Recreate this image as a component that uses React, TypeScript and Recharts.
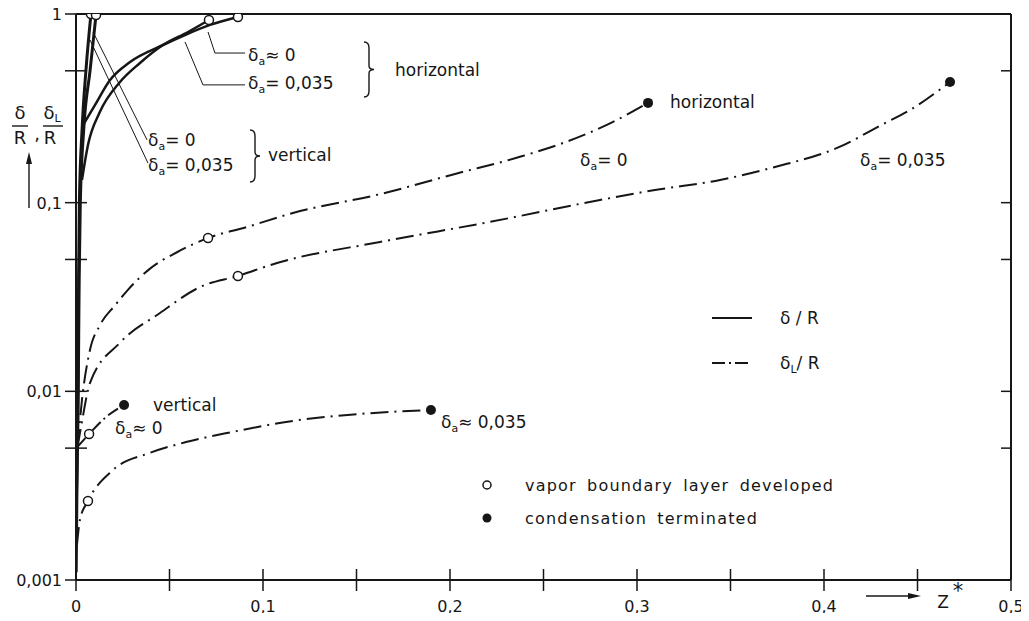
import { ComposedChart, Line, Scatter, XAxis, YAxis, ReferenceLine } from "recharts";

const INK = "#161616";
const FONT = "'DejaVu Sans', 'Liberation Sans', sans-serif";

// axes
const zTicks = [0, 0.05, 0.1, 0.15, 0.2, 0.25, 0.3, 0.35, 0.4, 0.45, 0.5];
const zTickLabels = ["0", "", "0,1", "", "0,2", "", "0,3", "", "0,4", "", "0,5"];
const rTicks = [0.001, 0.005, 0.01, 0.05, 0.1, 0.5, 1];
const rTickLabels = ["0,001", "", "0,01", "", "0,1", "", "1"];

// δ/R, vertical plate
const deltaVert0 = [
  { z: 0.0001, r: 0.0011 },
  { z: 0.0005, r: 0.003 },
  { z: 0.001, r: 0.01 },
  { z: 0.0014, r: 0.04 },
  { z: 0.0018, r: 0.1 },
  { z: 0.0033, r: 0.25 },
  { z: 0.0053, r: 0.5 },
  { z: 0.008, r: 1.0 },
];
const deltaVert035 = [
  { z: 0.0003, r: 0.003 },
  { z: 0.0012, r: 0.01 },
  { z: 0.0017, r: 0.04 },
  { z: 0.0023, r: 0.1 },
  { z: 0.0042, r: 0.25 },
  { z: 0.0075, r: 0.5 },
  { z: 0.0107, r: 0.988 },
];

// δ/R, horizontal tube
const deltaHorizA = [
  { z: 0.0032, r: 0.252 },
  { z: 0.0102, r: 0.33 },
  { z: 0.0182, r: 0.447 },
  { z: 0.0289, r: 0.557 },
  { z: 0.0465, r: 0.685 },
  { z: 0.0583, r: 0.774 },
  { z: 0.0717, r: 0.875 },
  { z: 0.0866, r: 0.964 },
];
const deltaHorizB = [
  { z: 0.0032, r: 0.132 },
  { z: 0.0064, r: 0.202 },
  { z: 0.0128, r: 0.303 },
  { z: 0.0235, r: 0.436 },
  { z: 0.0342, r: 0.55 },
  { z: 0.0465, r: 0.685 },
  { z: 0.0599, r: 0.803 },
  { z: 0.0711, r: 0.93 },
];

// δL/R, horizontal tube
const filmHoriz0 = [
  { z: 0.0008, r: 0.00507 },
  { z: 0.0016, r: 0.0062 },
  { z: 0.0032, r: 0.009 },
  { z: 0.0075, r: 0.0166 },
  { z: 0.0128, r: 0.0224 },
  { z: 0.0209, r: 0.0286 },
  { z: 0.0273, r: 0.0341 },
  { z: 0.0396, r: 0.0447 },
  { z: 0.054, r: 0.0546 },
  { z: 0.0706, r: 0.065 },
  { z: 0.0914, r: 0.0743 },
  { z: 0.116, r: 0.0882 },
  { z: 0.1626, r: 0.111 },
  { z: 0.2027, r: 0.142 },
  { z: 0.2374, r: 0.175 },
  { z: 0.2604, r: 0.207 },
  { z: 0.2872, r: 0.268 },
  { z: 0.3059, r: 0.338 },
];
const filmHoriz035 = [
  { z: 0.0008, r: 0.00507 },
  { z: 0.0027, r: 0.00648 },
  { z: 0.0075, r: 0.0111 },
  { z: 0.0235, r: 0.0181 },
  { z: 0.0449, r: 0.026 },
  { z: 0.0663, r: 0.0357 },
  { z: 0.0866, r: 0.0409 },
  { z: 0.1075, r: 0.0479 },
  { z: 0.1626, r: 0.0619 },
  { z: 0.2214, r: 0.0791 },
  { z: 0.2802, r: 0.1033 },
  { z: 0.3096, r: 0.1167 },
  { z: 0.3444, r: 0.1318 },
  { z: 0.3738, r: 0.1546 },
  { z: 0.407, r: 0.195 },
  { z: 0.4316, r: 0.261 },
  { z: 0.446, r: 0.31 },
  { z: 0.4674, r: 0.436 },
];

// δL/R, vertical plate
const filmVert0 = [
  { z: 0.0008, r: 0.00507 },
  { z: 0.007, r: 0.00594 },
  { z: 0.0155, r: 0.00723 },
  { z: 0.0257, r: 0.00847 },
];
const filmVert035 = [
  { z: 0.0005, r: 0.00153 },
  { z: 0.0021, r: 0.00208 },
  { z: 0.0064, r: 0.00262 },
  { z: 0.0198, r: 0.00383 },
  { z: 0.0396, r: 0.00472 },
  { z: 0.0594, r: 0.0054 },
  { z: 0.084, r: 0.0061 },
  { z: 0.116, r: 0.00697 },
  { z: 0.1519, r: 0.00759 },
  { z: 0.1898, r: 0.00797 },
];

// markers
const layerDeveloped = [
  { z: 0.008, r: 1.0 },
  { z: 0.0107, r: 0.988 },
  { z: 0.0711, r: 0.93 },
  { z: 0.0866, r: 0.964 },
  { z: 0.0706, r: 0.065 },
  { z: 0.0866, r: 0.0409 },
  { z: 0.007, r: 0.00594 },
  { z: 0.0064, r: 0.00262 },
];
const condensationEnd = [
  { z: 0.3059, r: 0.338 },
  { z: 0.4674, r: 0.436 },
  { z: 0.0257, r: 0.00847 },
  { z: 0.1898, r: 0.00797 },
];

// leader lines from curves to their labels
const leaders = [
  [{ z: 0.0091, r: 0.803 }, { z: 0.038, r: 0.215 }],
  [{ z: 0.0075, r: 0.728 }, { z: 0.0385, r: 0.162 }],
  [{ z: 0.0706, r: 0.803 }, { z: 0.0743, r: 0.621 }],
  [{ z: 0.0743, r: 0.621 }, { z: 0.0904, r: 0.621 }],
  [{ z: 0.0583, r: 0.711 }, { z: 0.0679, r: 0.421 }],
  [{ z: 0.0679, r: 0.421 }, { z: 0.0904, r: 0.421 }],
];

function BottomTick(props: any) {
  const { x, y, payload } = props;
  const label = zTickLabels[zTicks.indexOf(payload.value)];
  return (
    <g>
      <line x1={x} x2={x} y1={y - 11} y2={y + 11} stroke={INK} strokeWidth={1.5} />
      {label && (
        <text x={x} y={y + 32} textAnchor="middle" fontFamily={FONT} fontSize={16} fill={INK}>
          {label}
        </text>
      )}
    </g>
  );
}

function LeftTick(props: any) {
  const { x, y, payload } = props;
  const label = rTickLabels[rTicks.indexOf(payload.value)];
  return (
    <g>
      <line x1={x - 11} x2={x + 11} y1={y} y2={y} stroke={INK} strokeWidth={1.5} />
      {label && (
        <text x={x - 14} y={y + 6} textAnchor="end" fontFamily={FONT} fontSize={16} fill={INK}>
          {label}
        </text>
      )}
    </g>
  );
}

function TopTick(props: any) {
  const { x, y } = props;
  return <line x1={x} x2={x} y1={y} y2={y + 10} stroke={INK} strokeWidth={1.5} />;
}

function RightTick(props: any) {
  const { x, y } = props;
  return <line x1={x - 10} x2={x} y1={y} y2={y} stroke={INK} strokeWidth={1.5} />;
}

function DeltaA({ x, y, rest }: { x: number; y: number; rest: string }) {
  return (
    <text x={x} y={y} fontFamily={FONT} fontSize={17} fill={INK}>
      δ
      <tspan fontSize={11} dy={4}>
        a
      </tspan>
      <tspan dy={-4}>{rest}</tspan>
    </text>
  );
}

function Brace({ x, y1, y2 }: { x: number; y1: number; y2: number }) {
  const m = (y1 + y2) / 2;
  const d = `M${x},${y1} Q${x + 5},${y1} ${x + 5},${y1 + 6} L${x + 5},${m - 4} Q${x + 5},${m} ${x + 10},${m} Q${x + 5},${m} ${x + 5},${m + 4} L${x + 5},${y2 - 6} Q${x + 5},${y2} ${x},${y2}`;
  return <path d={d} fill="none" stroke={INK} strokeWidth={1.4} />;
}

const solid = { stroke: INK, strokeWidth: 2.5, dot: false, type: "monotone" as const, isAnimationActive: false };
const dashDot = { ...solid, strokeWidth: 2, strokeDasharray: "18 6 2 6" };

export default function App() {
  const txt = { fontFamily: FONT, fontSize: 17, fill: INK };
  return (
    <div style={{ position: "relative", margin: -8, width: 1029, height: 621, background: "#fff" }}>
      <ComposedChart width={1029} height={621} margin={{ top: 13, right: 17, bottom: 3, left: 16 }}>
        <XAxis
          dataKey="z"
          type="number"
          domain={[0, 0.5]}
          ticks={zTicks}
          interval={0}
          height={38}
          tickSize={0}
          tickMargin={0}
          tickLine={false}
          tick={<BottomTick />}
          axisLine={{ stroke: INK, strokeWidth: 2 }}
          allowDataOverflow
        />
        <XAxis
          xAxisId="top"
          orientation="top"
          type="number"
          domain={[0, 0.5]}
          ticks={zTicks}
          interval={0}
          height={1}
          tickSize={0}
          tickMargin={0}
          tickLine={false}
          tick={<TopTick />}
          axisLine={{ stroke: INK, strokeWidth: 2 }}
          allowDataOverflow
        />
        <YAxis
          dataKey="r"
          type="number"
          scale="log"
          domain={[0.001, 1]}
          ticks={rTicks}
          interval={0}
          width={60}
          tickSize={0}
          tickMargin={0}
          tickLine={false}
          tick={<LeftTick />}
          axisLine={{ stroke: INK, strokeWidth: 2 }}
          allowDataOverflow
        />
        <YAxis
          yAxisId="right"
          orientation="right"
          type="number"
          scale="log"
          domain={[0.001, 1]}
          ticks={rTicks}
          interval={0}
          width={1}
          tickSize={0}
          tickMargin={0}
          tickLine={false}
          tick={<RightTick />}
          axisLine={{ stroke: INK, strokeWidth: 2 }}
          allowDataOverflow
        />

        {leaders.map((seg, i) => (
          <ReferenceLine
            key={i}
            segment={[
              { x: seg[0].z, y: seg[0].r },
              { x: seg[1].z, y: seg[1].r },
            ]}
            stroke={INK}
            strokeWidth={1}
          />
        ))}

        <Line data={deltaVert0} dataKey="r" {...solid} strokeWidth={3} />
        <Line data={deltaVert035} dataKey="r" {...solid} strokeWidth={3} />
        <Line data={deltaHorizA} dataKey="r" {...solid} />
        <Line data={deltaHorizB} dataKey="r" {...solid} />
        <Line data={filmHoriz0} dataKey="r" {...dashDot} />
        <Line data={filmHoriz035} dataKey="r" {...dashDot} />
        <Line data={filmVert0} dataKey="r" {...dashDot} strokeDasharray="12 4 2 4" />
        <Line data={filmVert035} dataKey="r" {...dashDot} />

        <Scatter
          data={layerDeveloped}
          isAnimationActive={false}
          shape={(p: any) => <circle cx={p.cx} cy={p.cy} r={4.5} fill="#fff" stroke={INK} strokeWidth={1.5} />}
        />
        <Scatter
          data={condensationEnd}
          isAnimationActive={false}
          shape={(p: any) => <circle cx={p.cx} cy={p.cy} r={5} fill={INK} />}
        />
      </ComposedChart>

      <svg width={1029} height={621} style={{ position: "absolute", left: 0, top: 0, pointerEvents: "none" }}>
        {/* y axis title */}
        <g fontFamily={FONT} fontSize={18} fill={INK} textAnchor="middle">
          <text x={20} y={119}>δ</text>
          <line x1={12} x2={28} y1={126} y2={126} stroke={INK} strokeWidth={1.4} />
          <text x={20} y={144}>R</text>
          <text x={37} y={140}>,</text>
          <text x={52} y={119}>
            δ<tspan fontSize={11} dy={3}>L</tspan>
          </text>
          <line x1={43} x2={63} y1={126} y2={126} stroke={INK} strokeWidth={1.4} />
          <text x={50} y={144}>R</text>
        </g>
        <line x1={29} x2={29} y1={208} y2={162} stroke={INK} strokeWidth={1.4} />
        <polygon points="29,152 26,164 32,164" fill={INK} />

        {/* x axis title */}
        <line x1={866} x2={910} y1={596} y2={596} stroke={INK} strokeWidth={1.4} />
        <polygon points="921,596 908,593 908,599" fill={INK} />
        <text x={943} y={608} textAnchor="middle" {...txt}>Z</text>
        <text x={958} y={598} textAnchor="middle" {...txt} fontSize={21}>*</text>

        {/* horizontal δ/R labels */}
        <DeltaA x={248} y={61} rest="≈ 0" />
        <DeltaA x={248} y={89} rest="= 0,035" />
        <Brace x={364} y1={42} y2={97} />
        <text x={395} y={76} {...txt}>horizontal</text>

        {/* vertical δ/R labels */}
        <DeltaA x={148} y={146} rest="= 0" />
        <DeltaA x={148} y={171} rest="= 0,035" />
        <Brace x={250} y1={130} y2={182} />
        <text x={268} y={161} {...txt}>vertical</text>

        {/* δL/R labels */}
        <text x={670} y={108} {...txt}>horizontal</text>
        <DeltaA x={580} y={166} rest="= 0" />
        <DeltaA x={860} y={166} rest="= 0,035" />
        <text x={153} y={411} {...txt}>vertical</text>
        <DeltaA x={115} y={434} rest="≈ 0" />
        <DeltaA x={441} y={428} rest="≈ 0,035" />

        {/* line legend */}
        <line x1={712} x2={752} y1={318} y2={318} stroke={INK} strokeWidth={2} />
        <text x={780} y={324} {...txt}>δ / R</text>
        <line x1={712} x2={752} y1={363} y2={363} stroke={INK} strokeWidth={2} strokeDasharray="13 4 2 4" />
        <text x={780} y={369} {...txt}>
          δ<tspan fontSize={11} dy={4}>L</tspan>
          <tspan dy={-4}>/ R</tspan>
        </text>

        {/* marker legend */}
        <circle cx={487} cy={485} r={4} fill="#fff" stroke={INK} strokeWidth={1.5} />
        <text x={525} y={491} {...txt} fontSize={16} letterSpacing={1.2} wordSpacing={4}>
          vapor boundary layer developed
        </text>
        <circle cx={487} cy={518} r={4.5} fill={INK} />
        <text x={525} y={524} {...txt} fontSize={16} letterSpacing={1.2} wordSpacing={4}>
          condensation terminated
        </text>
      </svg>
    </div>
  );
}
